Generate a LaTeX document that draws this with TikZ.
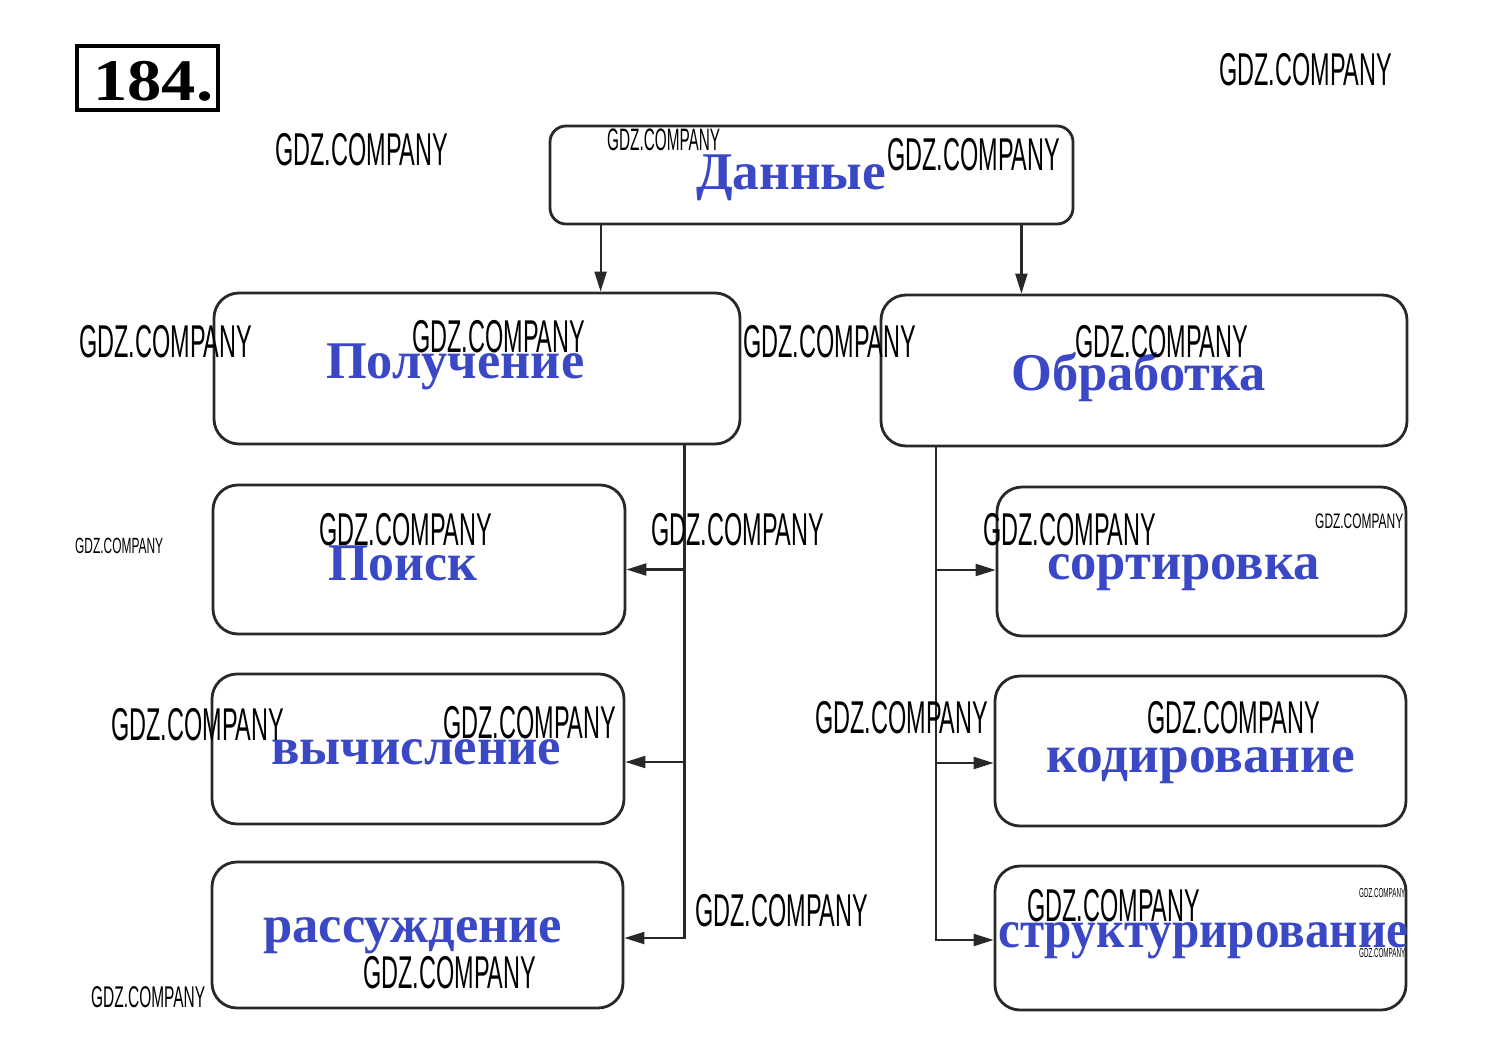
\documentclass[tikz,border=0pt]{standalone}
\usepackage{fontspec}
\setmainfont{Liberation Serif}
\newfontfamily\wmfont{Liberation Sans}
\usetikzlibrary{arrows.meta}
\definecolor{lbl}{RGB}{58,72,198}
\definecolor{ink}{RGB}{40,40,40}
\newcommand\wmk[2]{\resizebox{#1pt}{\height}{\fontsize{#2}{#2}\selectfont\wmfont GDZ.COMPANY}}
\newcommand\lbltxt[2]{\resizebox{#1pt}{\height}{\fontsize{53}{53}\selectfont\bfseries #2}}
\tikzset{
  box/.style={draw=ink, line width=2.8pt, rounded corners=25pt, inner sep=0pt},
  lab/.style={anchor=base west, inner sep=0pt, text=lbl},
  wm/.style={anchor=base west, inner sep=0pt, text=black},
  conn/.style={draw=ink, line width=2.2pt},
  arr/.style={conn, -{Triangle[length=20pt,width=12pt]}}
}
\begin{document}
\begin{tikzpicture}[x=1pt,y=-1pt]
\useasboundingbox[fill=white] (0,0) rectangle (1489,1060);

% number box
\node[draw=black, line width=4pt, minimum width=141pt, minimum height=64pt, inner sep=0pt] (numbox) at (147.5,78) {};
\node[anchor=base west, inner sep=0pt] (numtxt) at (93,100)
  {\resizebox{120pt}{\height}{\fontsize{59}{59}\selectfont\bfseries 184.}};

% boxes
\node[box, rounded corners=16pt, minimum width=523pt, minimum height=98pt] (dat) at (811.5,175) {};
\node[box, minimum width=526pt, minimum height=151pt] (pol) at (477,368.5) {};
\node[box, minimum width=526pt, minimum height=151pt] (obr) at (1144,370.5) {};
\node[box, minimum width=412pt, minimum height=149pt] (poi) at (419,559.5) {};
\node[box, minimum width=412pt, minimum height=150pt] (vyc) at (418,749) {};
\node[box, minimum width=411pt, minimum height=146pt] (ras) at (417.5,935) {};
\node[box, minimum width=409pt, minimum height=149pt] (sor) at (1201.5,561.5) {};
\node[box, minimum width=411pt, minimum height=150pt] (kod) at (1200.5,751) {};
\node[box, minimum width=411pt, minimum height=144pt] (str) at (1200.5,938) {};

% labels
\node[lab] (datT) at (696,189) {\lbltxt{190}{Данные}};
\node[lab] (polT) at (326,378) {\lbltxt{258}{Получение}};
\node[lab] (obrT) at (1011,390) {\lbltxt{255}{Обработка}};
\node[lab] (poiT) at (328,580) {\lbltxt{149}{Поиск}};
\node[lab] (vycT) at (271,764) {\lbltxt{290}{вычисление}};
\node[lab] (rasT) at (263,942) {\lbltxt{299}{рассуждение}};
\node[lab] (sorT) at (1047,579) {\lbltxt{273}{сортировка}};
\node[lab] (kodT) at (1046,772) {\lbltxt{309}{кодирование}};
\node[lab] (strT) at (998,947) {\lbltxt{410}{структурирование}};

% connectors from top
\draw[arr] ([xshift=52pt]dat.south west) -- ([xshift=52pt]dat.south west |- pol.north);
\draw[arr] ([xshift=-53pt]dat.south east) -- ([xshift=-53pt]dat.south east |- obr.north);

% left trunk
\coordinate (lt) at ([xshift=-57pt]pol.south east);
\coordinate (pE) at ([yshift=-10pt]poi.east);
\coordinate (vE) at ([yshift=-13pt]vyc.east);
\coordinate (rE) at ([yshift=-3pt]ras.east);
\draw[arr] (lt) |- (rE);
\draw[arr] (lt |- pE) -- (pE);
\draw[arr] (lt |- vE) -- (vE);

% right trunk
\coordinate (rt) at ([xshift=56pt]obr.south west);
\coordinate (sW) at ([yshift=-8.5pt]sor.west);
\coordinate (kW) at ([yshift=-12pt]kod.west);
\coordinate (tW) at ([yshift=-2pt]str.west);
\draw[arr] (rt) |- (tW);
\draw[arr] (rt |- sW) -- (sW);
\draw[arr] (rt |- kW) -- (kW);

% watermarks
\node[wm] (w1) at (1219,85) {\wmk{173}{46}};
\node[wm] (w2) at (275,165) {\wmk{173}{46}};
\node[wm] (w3) at (607,150) {\wmk{113}{31}};
\node[wm] (w4) at (887,170) {\wmk{173}{46}};
\node[wm] (w5) at (79,357) {\wmk{173}{46}};
\node[wm] (w6) at (412,352) {\wmk{173}{46}};
\node[wm] (w7) at (743,357) {\wmk{173}{46}};
\node[wm] (w8) at (1075,357) {\wmk{173}{46}};
\node[wm] (w9) at (75,553) {\wmk{88}{22}};
\node[wm] (w10) at (319,545) {\wmk{173}{46}};
\node[wm] (w11) at (651,545) {\wmk{173}{46}};
\node[wm] (w12) at (983,545) {\wmk{173}{46}};
\node[wm] (w13) at (1315,528) {\wmk{88}{21}};
\node[wm] (w14) at (815,733) {\wmk{173}{46}};
\node[wm] (w15) at (111,740) {\wmk{173}{46}};
\node[wm] (w16) at (443,738) {\wmk{173}{46}};
\node[wm] (w17) at (1147,733) {\wmk{173}{46}};
\node[wm] (w18) at (695,926) {\wmk{173}{46}};
\node[wm] (w19) at (1027,921) {\wmk{173}{46}};
\node[wm] (w20) at (1359,897) {\wmk{46}{13}};
\node[wm] (w21) at (1359,957) {\wmk{46}{13}};
\node[wm] (w22) at (363,988) {\wmk{173}{46}};
\node[wm] (w23) at (91,1007) {\wmk{114}{30}};
\end{tikzpicture}
\end{document}
